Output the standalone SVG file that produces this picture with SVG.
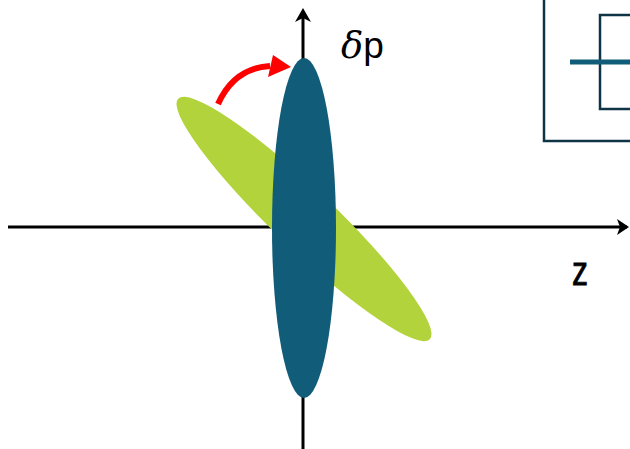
<svg xmlns="http://www.w3.org/2000/svg" width="630" height="449" viewBox="0 0 630 449">
<style>
.axis{stroke:#000;stroke-width:3;fill:none}
.lbl{font-family:"Liberation Sans","DejaVu Sans",sans-serif;fill:#000}
.box{fill:none;stroke:#0f3446;stroke-width:2.5}
</style>
<rect width="630" height="449" fill="#fff"/>
<g id="connectors">
<line class="axis" x1="8" y1="227" x2="627" y2="227"/>
<path d="M617,219 L629,227 L617,235 L620,227 Z" fill="#000"/>
<line class="axis" x1="303" y1="449" x2="303" y2="12"/>
<path d="M295,22 L303,8 L311,22 L303,18 Z" fill="#000"/>
</g>
<g id="green-ellipse">
<ellipse cx="304" cy="219" rx="174" ry="30" transform="rotate(43.7 304 219)" fill="#b3d33c"/>
</g>
<g id="blue-ellipse">
<ellipse cx="304" cy="228" rx="32" ry="170" fill="#115c78"/>
</g>
<g id="rotation-arrow">
<path d="M218,104 Q234,68 270,66" fill="none" stroke="#ff0000" stroke-width="6"/>
<path d="M273,55 L291,67 L268,77 Z" fill="#ff0000"/>
</g>
<g id="label-dp">
<text class="lbl" x="341" y="58" font-size="37"><tspan font-family="'DejaVu Serif',serif" font-style="italic">δ</tspan>p</text>
</g>
<g id="label-z">
<text class="lbl" transform="translate(572 285) scale(0.8 1)" x="0" y="0" font-size="40" stroke="#000" stroke-width="0.8">z</text>
</g>
<g id="inset">
<rect class="box" x="544" y="-10" width="100" height="151"/>
<rect class="box" x="600" y="15" width="50" height="94"/>
<line x1="570" y1="62" x2="630" y2="62" stroke="#115c78" stroke-width="5"/>
</g>
</svg>
